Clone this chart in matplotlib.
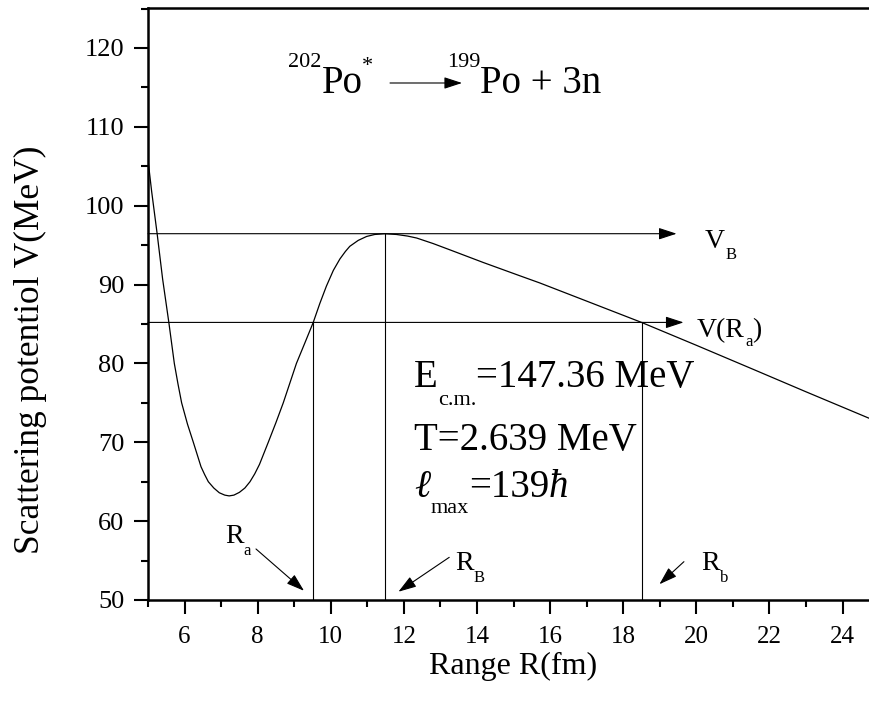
import matplotlib
matplotlib.use('Agg')
import matplotlib.pyplot as plt
from matplotlib.ticker import MultipleLocator

plt.rcParams['font.family'] = ['Liberation Serif', 'DejaVu Serif']

# scattering potential curve
r_fm = [5.0, 5.1, 5.25, 5.4, 5.57, 5.72, 5.82, 5.92, 6.08, 6.24, 6.45, 6.55, 6.65, 6.8,
        6.95, 7.1, 7.22, 7.35, 7.5, 7.65, 7.79, 7.92, 8.05, 8.29, 8.5, 8.70, 8.88,
        9.06, 9.3, 9.52, 9.7, 9.88, 10.07, 10.25, 10.4, 10.52, 10.75, 10.98,
        11.2, 11.47, 11.8, 12.1, 12.35, 12.8, 13.26, 14.17, 15.18, 15.72,
        17.0, 18.5, 20.0, 21.56, 23.0, 24.75]
v_mev = [105.8, 101.8, 96.45, 90.7, 85.2, 80.0, 77.4, 75.0, 72.3, 70.0, 66.9, 65.9, 65.0, 64.2,
         63.6, 63.3, 63.2, 63.3, 63.65, 64.2, 65.0, 66.0, 67.2, 70.0, 72.5, 75.0, 77.5,
         80.0, 82.7, 85.2, 87.6, 89.8, 91.8, 93.25, 94.2, 94.85, 95.6, 96.1,
         96.35, 96.45, 96.35, 96.15, 95.9, 95.2, 94.4, 92.8, 91.1, 90.2,
         87.9, 85.2, 82.3, 79.24, 76.4, 73.0]

v_barrier = 96.45
r_barrier = 11.47
v_ra = 85.2
r_a = 9.52
r_b = 18.51

x_ticks = [6, 8, 10, 12, 14, 16, 18, 20, 22, 24]
y_ticks = [50, 60, 70, 80, 90, 100, 110, 120]

fig = plt.figure(figsize=(8.7, 7.1), dpi=100)
ax = fig.add_axes([148 / 870, 110 / 710, 722 / 870, 592 / 710])
renderer = fig.canvas.get_renderer()

ax.plot(r_fm, v_mev, color='black', lw=0.9)
ax.set_xlim(5, 24.75)
ax.set_ylim(50, 125.07)

arrow = dict(arrowstyle='-|>,head_length=0.55,head_width=0.18', color='black',
             lw=0.8, shrinkA=0, shrinkB=0, mutation_scale=20)

# horizontal levels with arrows
ax.annotate('', xy=(19.46, v_barrier), xytext=(5, v_barrier), arrowprops=arrow)
ax.annotate('', xy=(19.65, v_ra), xytext=(5, v_ra), arrowprops=arrow)

# vertical markers
ax.plot([r_a, r_a], [50, v_ra], color='black', lw=0.8)
ax.plot([r_barrier, r_barrier], [50, v_barrier], color='black', lw=0.8)
ax.plot([r_b, r_b], [50, v_ra], color='black', lw=0.8)


def rich(x, y, parts):
    # draw text pieces one after the other, with pixel offsets for sub/superscripts
    dx = 0
    for p in parts:
        s, size, dy = p[:3]
        style = p[3] if len(p) > 3 else 'normal'
        t = ax.annotate(s, (x, y), xytext=(dx, dy), textcoords='offset pixels',
                        fontsize=size, va='baseline', ha='left', style=style)
        dx += t.get_window_extent(renderer).width


# reaction title
rich(8.83, 114.29, [('202', 16, 26), ('Po', 28, 0), ('*', 16, 22)])
ax.annotate('', xy=(13.59, 115.56), xytext=(11.62, 115.56), arrowprops=arrow)
rich(13.18, 114.29, [('199', 16, 26), ('Po + 3n', 28, 0)])

# parameters
rich(12.28, 77.05, [('E', 28, 0), ('c.m.', 16, -18), ('=147.36 MeV', 28, 0)])
rich(12.28, 69.02, [('T=2.639 MeV', 28, 0)])
rich(12.28, 63.1, [('ℓ', 28, 0, 'italic'), ('max', 16, -16), ('=139', 28, 0),
                   ('ħ', 28, 0, 'italic')])

# level labels
rich(20.24, 94.6, [('V', 20, 0), ('B', 12, -11)])
rich(20.02, 83.39, [('V(R', 20, 0), ('a', 12, -9), (')', 20, 0)])

# radius labels with arrows
rich(7.11, 57.23, [('R', 20, 0), ('a', 12, -12)])
ax.annotate('', xy=(9.267, 51.17), xytext=(7.954, 56.47), arrowprops=arrow)
rich(13.40, 53.80, [('R', 20, 0), ('B', 12, -12)])
ax.annotate('', xy=(11.85, 51.05), xytext=(13.24, 55.41), arrowprops=arrow)
rich(20.14, 53.80, [('R', 20, 0), ('b', 12, -12)])
ax.annotate('', xy=(18.99, 52.0), xytext=(19.66, 54.86), arrowprops=arrow)

ax.set_xticks(x_ticks)
ax.set_yticks(y_ticks)
ax.xaxis.set_minor_locator(MultipleLocator(1))
ax.yaxis.set_minor_locator(MultipleLocator(5))
ax.tick_params(which='major', direction='out', length=10, width=1.5)
ax.tick_params(which='minor', direction='out', length=5, width=1.5)
ax.tick_params(axis='x', which='major', labelsize=18, pad=9)
ax.tick_params(axis='y', which='major', labelsize=19, pad=7)
ax.spines['right'].set_visible(False)
for side in ['left', 'bottom', 'top']:
    ax.spines[side].set_linewidth(1.8)

ax.set_xlabel('Range R(fm)', fontsize=23)
ax.xaxis.set_label_coords(0.5055, -0.088)
ax.xaxis.label.set_va('top')
ax.set_ylabel('Scattering potentiol V(MeV)', fontsize=25.5)
ax.yaxis.set_label_coords(-0.14, 0.422)

fig.savefig('out.png', dpi=100)
